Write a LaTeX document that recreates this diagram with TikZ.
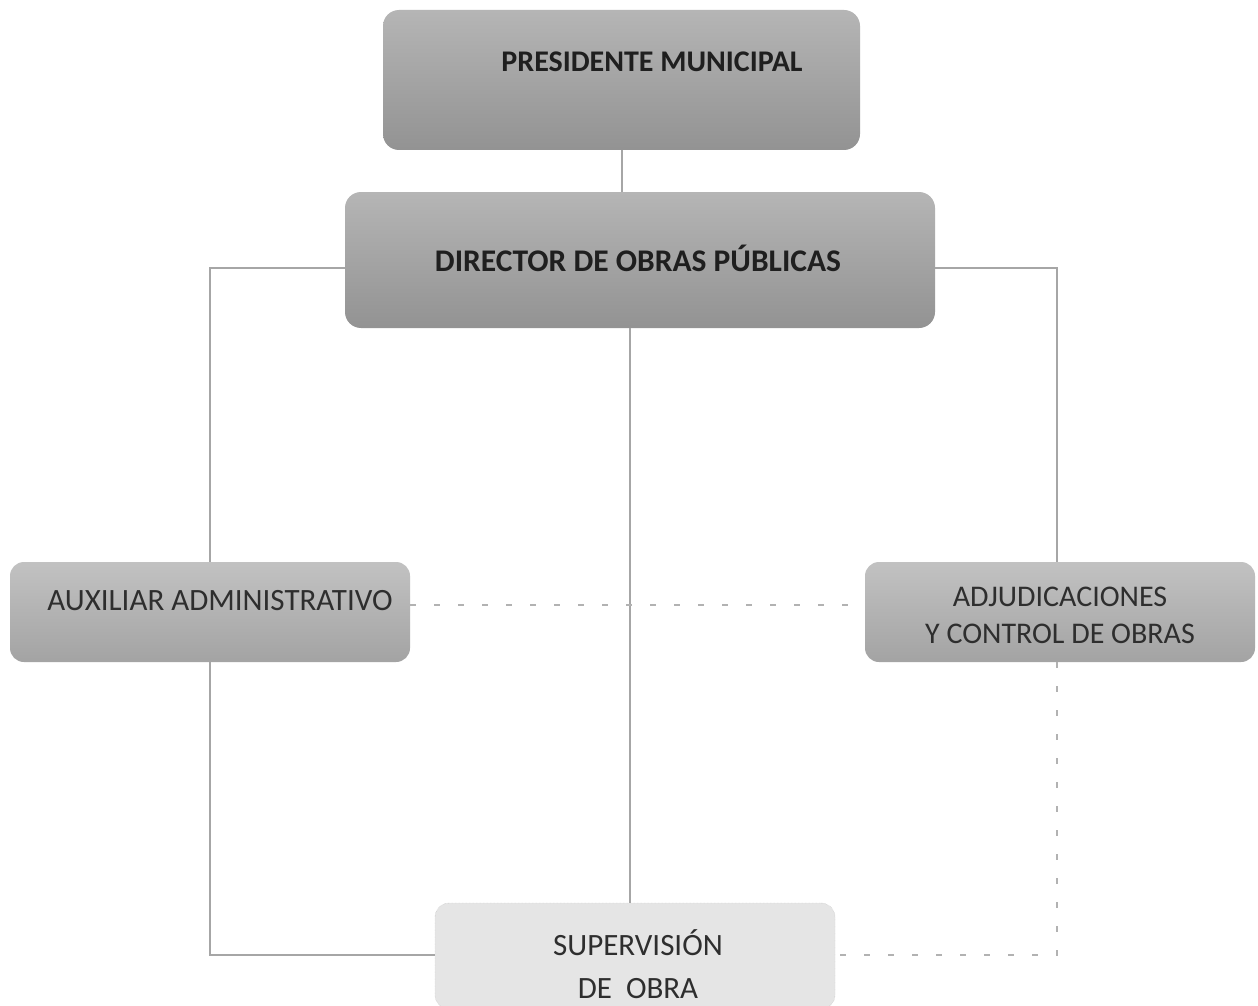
\documentclass[tikz,border=0pt]{standalone}
\usepackage{fontspec}
\setmainfont{Carlito}
\begin{document}
\begin{tikzpicture}[x={(1pt,0)},y={(0,-1pt)},
  darkbox/.style={rectangle, rounded corners=16pt, draw=none, top color=gray!58, bottom color=gray!85, inner sep=0pt},
  midbox/.style={rectangle, rounded corners=14pt, draw=none, top color=gray!48, bottom color=gray!72, inner sep=0pt},
  lightbox/.style={rectangle, rounded corners=14pt, draw=gray!55, densely dotted, fill=gray!20, inner sep=0pt},
  boldlabel/.style={font=\fontsize{30}{34}\selectfont\bfseries, text=black!88},
  plainlabel/.style={font=\fontsize{31}{38}\selectfont, text=black!82, align=center},
  link/.style={draw=gray!70, line width=1.1pt},
  dashlink/.style={draw=gray!60, line width=1.6pt, dash pattern=on 6pt off 18pt}]
\useasboundingbox (0,0) rectangle (1258,1006);
\fill[white] (0,0) rectangle (1258,1006);

\node[darkbox, minimum width=477pt, minimum height=140pt] (pres) at (621.5,80) {};
\node[boldlabel] (prest) at (652,62) {PRESIDENTE MUNICIPAL};

\node[darkbox, minimum width=590pt, minimum height=136pt] (dir) at (640,260) {};
\node[boldlabel, font=\fontsize{31.5}{34}\selectfont\bfseries] (dirt) at (638,258) {DIRECTOR DE OBRAS PÚBLICAS};

\node[midbox, minimum width=400pt, minimum height=100pt] (aux) at (210,612) {};
\node[plainlabel] (auxt) at (220,601) {AUXILIAR ADMINISTRATIVO};

\node[midbox, minimum width=390pt, minimum height=100pt] (adj) at (1060,612) {};
\node[plainlabel, font=\fontsize{30}{37}\selectfont] (adjt) at (1060,615) {ADJUDICACIONES\\Y CONTROL DE OBRAS};

\node[lightbox, minimum width=400pt, minimum height=106pt] (sup) at (635,956) {};
\node[plainlabel, font=\fontsize{31}{43}\selectfont] (supt) at (638,964) {SUPERVISIÓN\\DE\ \ OBRA};

\coordinate (dl) at (210,268);
\coordinate (dr) at (1057,268);
\coordinate (al) at (210,955);
\coordinate (ar) at (1057,955);

\draw[link] (pres.south -| 622,0) -- (dir.north -| 622,0);
\draw[link] (dir.west |- dl) -- (dl) -- (aux.north -| dl);
\draw[link] (dir.east |- dr) -- (dr) -- (adj.north -| dr);
\draw[link] (dir.south -| 630,0) -- (sup.north -| 630,0);
\draw[link] (aux.south -| al) -- (al) -- (sup.west |- al);
\draw[dashlink] (aux.east |- 0,605) -- (adj.west |- 0,605);
\draw[dashlink] (adj.south -| ar) -- (ar) -- (sup.east |- ar);
\end{tikzpicture}
\end{document}
